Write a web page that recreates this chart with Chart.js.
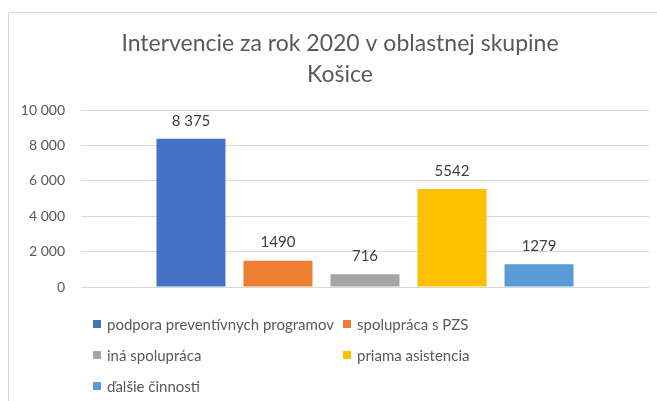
<!DOCTYPE html>
<html lang="sk">
<head>
    <meta charset="UTF-8">
    <title>Intervencie za rok 2020 v oblastnej skupine Košice</title>
    <style>
        html, body {
            margin: 0;
            padding: 0;
            width: 657px;
            height: 401px;
            overflow: hidden;
            background: #ffffff;
            font-family: Lato, "Open Sans", sans-serif;
        }
        .frame {
            position: absolute;
            left: 8px;
            top: 12px;
            width: 720px;
            height: 500px;
            border: 1px solid #d9d9d9;
        }
        #wrap {
            position: absolute;
            left: 0;
            top: 0;
            width: 657px;
            height: 401px;
        }
        #legend {
            position: absolute;
            left: 93px;
            top: 308px;
            display: grid;
            grid-template-columns: 250px 200px;
            grid-auto-rows: 31px;
            color: #595959;
            font-size: 15px;
        }
        #legend div {
            display: flex;
            align-items: center;
            white-space: nowrap;
        }
        #legend span.box {
            display: inline-block;
            width: 8px;
            height: 8px;
            margin-right: 6px;
        }
    </style>
</head>
<body>
    <div class="frame"></div>
    <div id="wrap"><canvas id="chart1" width="657" height="401"></canvas></div>
    <div id="legend"></div>

    <script src="https://cdn.jsdelivr.net/npm/chart.js"></script>
    <script>
        // data
        var seriesNames = ['podpora preventívnych programov', 'spolupráca s PZS', 'iná spolupráca', 'priama asistencia', 'ďalšie činnosti'];
        var seriesValues = [8375, 1490, 716, 5542, 1279];
        var valueLabels = ['8 375', '1490', '716', '5542', '1279'];
        var seriesColors = ['#4472c4', '#ed7d31', '#a5a5a5', '#ffc000', '#5b9bd5'];
        var yTicks = [0, 2000, 4000, 6000, 8000, 10000];
        var yTickLabels = ['0', '2 000', '4 000', '6 000', '8 000', '10 000'];

        var fontFamily = 'Lato, "Open Sans", sans-serif';

        var datasets = seriesNames.map(function(name, i) {
            return {
                label: name,
                data: [seriesValues[i]],
                backgroundColor: seriesColors[i],
                categoryPercentage: 0.766,
                barPercentage: 0.793
            };
        });

        // value labels above the bars
        var valueLabelPlugin = {
            id: 'valueLabels',
            afterDatasetsDraw: function(chart) {
                var ctx = chart.ctx;
                ctx.save();
                ctx.font = '15px ' + fontFamily;
                ctx.fillStyle = '#404040';
                ctx.textAlign = 'center';
                ctx.textBaseline = 'middle';
                chart.data.datasets.forEach(function(ds, i) {
                    var bar = chart.getDatasetMeta(i).data[0];
                    ctx.fillText(valueLabels[i], bar.x, bar.y - 18);
                });
                ctx.restore();
            }
        };

        var ctx = document.getElementById('chart1').getContext('2d');

        // tick labels are mirrored (so they are not clipped) and pulled back left of the axis
        ctx.font = '14px ' + fontFamily;
        var widest = Math.max.apply(null, yTickLabels.map(function(t) { return ctx.measureText(t).width; }));

        new Chart(ctx, {
            type: 'bar',
            data: {
                labels: [''],
                datasets: datasets
            },
            plugins: [valueLabelPlugin],
            options: {
                responsive: false,
                animation: false,
                layout: {
                    padding: { left: 31, right: 8, top: 0, bottom: 114 }
                },
                plugins: {
                    legend: { display: false },
                    tooltip: { enabled: false },
                    title: {
                        display: true,
                        text: ['Intervencie za rok 2020 v oblastnej skupine', 'Košice'],
                        color: '#595959',
                        font: { family: fontFamily, size: 23, weight: 'normal', lineHeight: 1.35 },
                        padding: { top: 28, bottom: 20 }
                    }
                },
                scales: {
                    x: {
                        display: false
                    },
                    y: {
                        min: 0,
                        max: 10000,
                        afterFit: function(scale) { scale.width = 50; },
                        afterBuildTicks: function(scale) {
                            scale.ticks = yTicks.map(function(v) { return { value: v }; });
                        },
                        border: { display: false },
                        grid: { color: '#d9d9d9', drawTicks: false },
                        ticks: {
                            color: '#595959',
                            mirror: true,
                            crossAlign: 'far',
                            padding: -(16 + widest),
                            font: { family: fontFamily, size: 14 },
                            callback: function(value) {
                                return yTickLabels[yTicks.indexOf(value)];
                            }
                        }
                    }
                }
            }
        });

        // legend laid out in two columns like the original
        var legend = document.getElementById('legend');
        seriesNames.forEach(function(name, i) {
            var item = document.createElement('div');
            var box = document.createElement('span');
            box.className = 'box';
            box.style.backgroundColor = seriesColors[i];
            item.appendChild(box);
            item.appendChild(document.createTextNode(name));
            legend.appendChild(item);
        });
    </script>
</body>
</html>
